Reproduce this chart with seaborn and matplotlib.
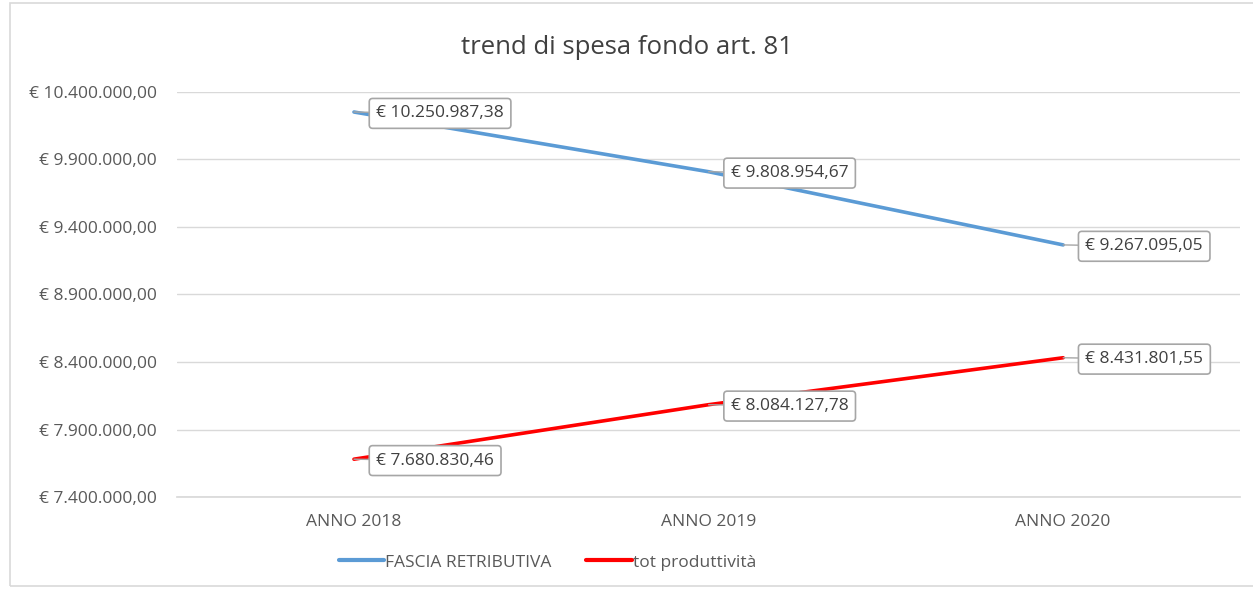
import matplotlib
matplotlib.use("Agg")
import matplotlib.pyplot as plt
import matplotlib.ticker as mticker
from matplotlib.patches import Rectangle
from matplotlib.lines import Line2D
import seaborn as sns
import pandas as pd

categories = ["ANNO 2018", "ANNO 2019", "ANNO 2020"]
fascia = [10250987.38, 9808954.67, 9267095.05]
produttivita = [7680830.46, 8084127.78, 8431801.55]
series_names = ["FASCIA RETRIBUTIVA", "tot produttività"]
yticks = [7400000, 7900000, 8400000, 8900000, 9400000, 9900000, 10400000]
colors = ["#5B9BD5", "#FF0000"]
title = "trend di spesa fondo art. 81"

sns.set_theme(style="white")
plt.rcParams["font.family"] = ["Open Sans", "DejaVu Sans"]

def eur(v, decimals=2):
    s = f"{v:,.{decimals}f}"
    s = s.replace(",", "X").replace(".", ",").replace("X", ".")
    return "€ " + s

df = pd.DataFrame({
    "cat": categories * 2,
    "x": list(range(len(categories))) * 2,
    "value": fascia + produttivita,
    "serie": [series_names[0]] * 3 + [series_names[1]] * 3,
})

fig = plt.figure(figsize=(12.53, 5.89), dpi=100)
ax = fig.add_axes([0.141, 0.156, 0.849, 0.688])

sns.lineplot(data=df, x="x", y="value", hue="serie", palette=colors,
             linewidth=2.6, ax=ax, legend=False, sort=False)

ax.set_xlim(-0.5, 2.5)
ax.set_ylim(yticks[0], yticks[-1])
ax.set_yticks(yticks)
ax.yaxis.set_major_formatter(mticker.FuncFormatter(lambda v, p: eur(v)))
ax.set_xticks(range(len(categories)))
ax.set_xticklabels(categories)
ax.grid(axis="y", color="#D9D9D9", linewidth=1)
ax.set_axisbelow(True)
for s in ax.spines.values():
    s.set_visible(False)
ax.spines["bottom"].set_visible(True)
ax.spines["bottom"].set_color("#D9D9D9")
ax.tick_params(axis="both", colors="#595959", labelsize=12.5, length=0)
ax.tick_params(axis="y", pad=14)
ax.tick_params(axis="x", pad=12)
ax.set_xlabel("")
ax.set_ylabel("")

for vals in (fascia, produttivita):
    for i, v in enumerate(vals):
        ax.annotate(eur(v), xy=(i, v), xytext=(16, -1), textcoords="offset points",
                    ha="left", va="center", fontsize=12.5, color="#404040",
                    bbox=dict(boxstyle="round,pad=0.4,rounding_size=0.2",
                              fc="white", ec="#A6A6A6", lw=1.2),
                    arrowprops=dict(arrowstyle="-", color="#A6A6A6", lw=1,
                                    shrinkA=0, shrinkB=0))

fig.text(0.5, 0.92, title, ha="center", va="center", fontsize=18.5, color="#404040")

handles = [Line2D([], [], color=c, lw=3) for c in colors]
fig.legend(handles, series_names, loc="center", bbox_to_anchor=(0.437, 0.045),
           ncol=2, frameon=False, fontsize=12.5, labelcolor="#595959",
           handlelength=2.6, handletextpad=0.1, columnspacing=2.0)

fig.patches.append(Rectangle((10 / 1253, 0.005), 1.0, 0.99, transform=fig.transFigure,
                             fill=False, ec="#D9D9D9", lw=1.2))

fig.savefig("out.png", dpi=100)
